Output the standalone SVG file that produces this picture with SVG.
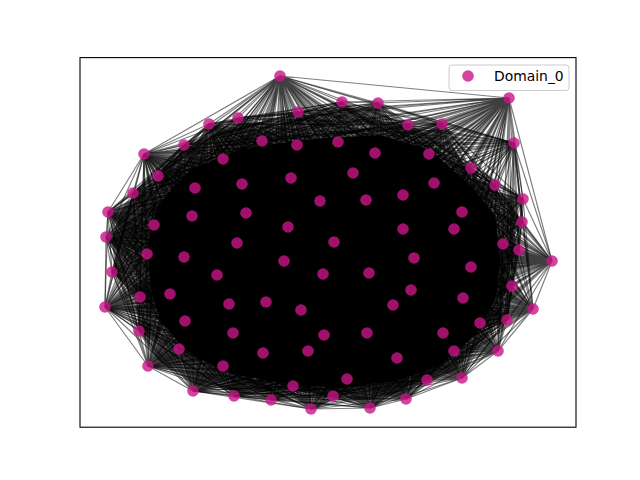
<svg xmlns="http://www.w3.org/2000/svg" width="640" height="480" viewBox="0 0 640 480">
<style>
.e{fill:none;stroke:#000;stroke-opacity:.5;stroke-width:1.2}
.n{fill:#c71585;fill-opacity:.8}
.t{font-family:"DejaVu Sans",sans-serif;font-size:13.9px;fill:#000}
</style>
<rect width="640" height="480" fill="#fff"/>
<g id="connectors">
<polygon points="184,150 238,124 298,118 342,108 378,109 408,130 442,130 468,170 492,190 516,202 515,250 506,286 500,320 478,345 455,370 427,382 400,392 370,400 333,398 293,390 260,392 234,390 195,385 160,362 140,335 135,300 115,272 112,240 120,213 135,195 155,178" fill="#000" fill-opacity=".5"/>
<polygon points="190,170 240,150 300,140 380,135 430,150 470,185 495,215 500,260 495,300 475,335 440,365 400,380 340,388 280,383 225,372 185,350 160,320 150,285 148,245 158,205" fill="#000"/>
<path class="e" d="M280 76L342 102ZL298 112ZL442 124ZL184 145ZL262 141ZL338 142ZL429 154ZL158 176ZL353 173ZL242 184ZL495 185ZL133 193ZL320 201ZL403 195ZL192 216ZL462 212ZL288 227ZL454 229ZL334 242ZL519 250ZL184 257ZL414 258ZL112 272ZL323 274ZL471 267ZL140 297ZL229 304ZL301 310ZL393 305ZL185 321ZL233 333ZL367 333ZL480 323ZL179 349ZL308 351ZL454 351ZL293 386ZL427 380ZL333 396ZL406 399ZL271 400ZL193 391ZL148 366ZL105 307ZL106 237ZL209 124Z"/>
<path class="e" d="M280 76L378 103ZL238 118ZL408 125ZL514 143ZL297 145ZL375 153ZL223 159ZL471 168ZL291 178ZL434 183ZL195 188ZL523 199ZL366 200ZL246 213ZL154 225ZL403 229ZL522 222ZL237 243ZL503 244ZL147 254ZL284 261ZL217 275ZL369 273ZL512 286ZL170 294ZL266 302ZL411 290ZL463 298ZL139 331ZL324 335ZL443 333ZL507 320ZL263 353ZL397 358ZL223 366ZL347 379ZL509 98ZL552 261ZL533 309ZL498 351ZL462 378ZL370 408ZL311 409ZL234 396ZL108 212ZL144 154Z"/>
<path class="e" d="M509 98L342 102ZL298 112ZL442 124ZL184 145ZL262 141ZL338 142ZL429 154ZL158 176ZL353 173ZL242 184ZL495 185ZL133 193ZL320 201ZL403 195ZL192 216ZL462 212ZL288 227ZL454 229ZL334 242ZL519 250ZL184 257ZL414 258ZL112 272ZL323 274ZL471 267ZL140 297ZL229 304ZL301 310ZL393 305ZL185 321ZL233 333ZL367 333ZL480 323ZL179 349ZL308 351ZL454 351ZL293 386ZL427 380ZL333 396ZL406 399ZL271 400ZL193 391ZL148 366ZL105 307ZL106 237ZL209 124Z"/>
<path class="e" d="M509 98L378 103ZL238 118ZL408 125ZL514 143ZL297 145ZL375 153ZL223 159ZL471 168ZL291 178ZL434 183ZL195 188ZL523 199ZL366 200ZL246 213ZL154 225ZL403 229ZL522 222ZL237 243ZL503 244ZL147 254ZL284 261ZL217 275ZL369 273ZL512 286ZL170 294ZL266 302ZL411 290ZL463 298ZL139 331ZL324 335ZL443 333ZL507 320ZL263 353ZL397 358ZL223 366ZL347 379ZL552 261ZL533 309ZL498 351ZL462 378ZL370 408ZL311 409ZL234 396ZL108 212ZL144 154Z"/>
<path class="e" d="M552 261L342 102ZL298 112ZL442 124ZL184 145ZL262 141ZL338 142ZL429 154ZL158 176ZL353 173ZL242 184ZL495 185ZL133 193ZL320 201ZL403 195ZL192 216ZL462 212ZL288 227ZL454 229ZL334 242ZL519 250ZL184 257ZL414 258ZL112 272ZL323 274ZL471 267ZL140 297ZL229 304ZL301 310ZL393 305ZL185 321ZL233 333ZL367 333ZL480 323ZL179 349ZL308 351ZL454 351ZL293 386ZL427 380ZL333 396ZL406 399ZL271 400ZL193 391ZL148 366ZL105 307ZL106 237ZL209 124Z"/>
<path class="e" d="M552 261L378 103ZL238 118ZL408 125ZL514 143ZL297 145ZL375 153ZL223 159ZL471 168ZL291 178ZL434 183ZL195 188ZL523 199ZL366 200ZL246 213ZL154 225ZL403 229ZL522 222ZL237 243ZL503 244ZL147 254ZL284 261ZL217 275ZL369 273ZL512 286ZL170 294ZL266 302ZL411 290ZL463 298ZL139 331ZL324 335ZL443 333ZL507 320ZL263 353ZL397 358ZL223 366ZL347 379ZL533 309ZL498 351ZL462 378ZL370 408ZL311 409ZL234 396ZL108 212ZL144 154Z"/>
<path class="e" d="M533 309L342 102ZL298 112ZL442 124ZL184 145ZL262 141ZL338 142ZL429 154ZL158 176ZL353 173ZL242 184ZL495 185ZL133 193ZL320 201ZL403 195ZL192 216ZL462 212ZL288 227ZL454 229ZL334 242ZL519 250ZL184 257ZL414 258ZL112 272ZL323 274ZL471 267ZL140 297ZL229 304ZL301 310ZL393 305ZL185 321ZL233 333ZL367 333ZL480 323ZL179 349ZL308 351ZL454 351ZL293 386ZL427 380ZL333 396ZL406 399ZL271 400ZL193 391ZL148 366ZL105 307ZL106 237ZL209 124Z"/>
<path class="e" d="M533 309L378 103ZL238 118ZL408 125ZL514 143ZL297 145ZL375 153ZL223 159ZL471 168ZL291 178ZL434 183ZL195 188ZL523 199ZL366 200ZL246 213ZL154 225ZL403 229ZL522 222ZL237 243ZL503 244ZL147 254ZL284 261ZL217 275ZL369 273ZL512 286ZL170 294ZL266 302ZL411 290ZL463 298ZL139 331ZL324 335ZL443 333ZL507 320ZL263 353ZL397 358ZL223 366ZL347 379ZL498 351ZL462 378ZL370 408ZL311 409ZL234 396ZL108 212ZL144 154Z"/>
<path class="e" d="M498 351L342 102ZL298 112ZL442 124ZL184 145ZL262 141ZL338 142ZL429 154ZL158 176ZL353 173ZL242 184ZL495 185ZL133 193ZL320 201ZL403 195ZL192 216ZL462 212ZL288 227ZL454 229ZL334 242ZL519 250ZL184 257ZL414 258ZL112 272ZL323 274ZL471 267ZL140 297ZL229 304ZL301 310ZL393 305ZL185 321ZL233 333ZL367 333ZL480 323ZL179 349ZL308 351ZL454 351ZL293 386ZL427 380ZL333 396ZL406 399ZL271 400ZL193 391ZL148 366ZL105 307ZL106 237ZL209 124Z"/>
<path class="e" d="M498 351L378 103ZL238 118ZL408 125ZL514 143ZL297 145ZL375 153ZL223 159ZL471 168ZL291 178ZL434 183ZL195 188ZL523 199ZL366 200ZL246 213ZL154 225ZL403 229ZL522 222ZL237 243ZL503 244ZL147 254ZL284 261ZL217 275ZL369 273ZL512 286ZL170 294ZL266 302ZL411 290ZL463 298ZL139 331ZL324 335ZL443 333ZL507 320ZL263 353ZL397 358ZL223 366ZL347 379ZL462 378ZL370 408ZL311 409ZL234 396ZL108 212ZL144 154Z"/>
<path class="e" d="M462 378L342 102ZL298 112ZL442 124ZL184 145ZL262 141ZL338 142ZL429 154ZL158 176ZL353 173ZL242 184ZL495 185ZL133 193ZL320 201ZL403 195ZL192 216ZL462 212ZL288 227ZL454 229ZL334 242ZL519 250ZL184 257ZL414 258ZL112 272ZL323 274ZL471 267ZL140 297ZL229 304ZL301 310ZL393 305ZL185 321ZL233 333ZL367 333ZL480 323ZL179 349ZL308 351ZL454 351ZL293 386ZL427 380ZL333 396ZL406 399ZL271 400ZL193 391ZL148 366ZL105 307ZL106 237ZL209 124Z"/>
<path class="e" d="M462 378L378 103ZL238 118ZL408 125ZL514 143ZL297 145ZL375 153ZL223 159ZL471 168ZL291 178ZL434 183ZL195 188ZL523 199ZL366 200ZL246 213ZL154 225ZL403 229ZL522 222ZL237 243ZL503 244ZL147 254ZL284 261ZL217 275ZL369 273ZL512 286ZL170 294ZL266 302ZL411 290ZL463 298ZL139 331ZL324 335ZL443 333ZL507 320ZL263 353ZL397 358ZL223 366ZL347 379ZL370 408ZL311 409ZL234 396ZL108 212ZL144 154Z"/>
<path class="e" d="M406 399L342 102ZL298 112ZL442 124ZL184 145ZL262 141ZL338 142ZL429 154ZL158 176ZL353 173ZL242 184ZL495 185ZL133 193ZL320 201ZL403 195ZL192 216ZL462 212ZL288 227ZL454 229ZL334 242ZL519 250ZL184 257ZL414 258ZL112 272ZL323 274ZL471 267ZL140 297ZL229 304ZL301 310ZL393 305ZL185 321ZL233 333ZL367 333ZL480 323ZL179 349ZL308 351ZL454 351ZL293 386ZL427 380ZL333 396ZL271 400ZL193 391ZL148 366ZL105 307ZL106 237ZL209 124Z"/>
<path class="e" d="M406 399L378 103ZL238 118ZL408 125ZL514 143ZL297 145ZL375 153ZL223 159ZL471 168ZL291 178ZL434 183ZL195 188ZL523 199ZL366 200ZL246 213ZL154 225ZL403 229ZL522 222ZL237 243ZL503 244ZL147 254ZL284 261ZL217 275ZL369 273ZL512 286ZL170 294ZL266 302ZL411 290ZL463 298ZL139 331ZL324 335ZL443 333ZL507 320ZL263 353ZL397 358ZL223 366ZL347 379ZL370 408ZL311 409ZL234 396ZL108 212ZL144 154Z"/>
<path class="e" d="M370 408L342 102ZL298 112ZL442 124ZL184 145ZL262 141ZL338 142ZL429 154ZL158 176ZL353 173ZL242 184ZL495 185ZL133 193ZL320 201ZL403 195ZL192 216ZL462 212ZL288 227ZL454 229ZL334 242ZL519 250ZL184 257ZL414 258ZL112 272ZL323 274ZL471 267ZL140 297ZL229 304ZL301 310ZL393 305ZL185 321ZL233 333ZL367 333ZL480 323ZL179 349ZL308 351ZL454 351ZL293 386ZL427 380ZL333 396ZL271 400ZL193 391ZL148 366ZL105 307ZL106 237ZL209 124Z"/>
<path class="e" d="M370 408L378 103ZL238 118ZL408 125ZL514 143ZL297 145ZL375 153ZL223 159ZL471 168ZL291 178ZL434 183ZL195 188ZL523 199ZL366 200ZL246 213ZL154 225ZL403 229ZL522 222ZL237 243ZL503 244ZL147 254ZL284 261ZL217 275ZL369 273ZL512 286ZL170 294ZL266 302ZL411 290ZL463 298ZL139 331ZL324 335ZL443 333ZL507 320ZL263 353ZL397 358ZL223 366ZL347 379ZL311 409ZL234 396ZL108 212ZL144 154Z"/>
<path class="e" d="M311 409L342 102ZL298 112ZL442 124ZL184 145ZL262 141ZL338 142ZL429 154ZL158 176ZL353 173ZL242 184ZL495 185ZL133 193ZL320 201ZL403 195ZL192 216ZL462 212ZL288 227ZL454 229ZL334 242ZL519 250ZL184 257ZL414 258ZL112 272ZL323 274ZL471 267ZL140 297ZL229 304ZL301 310ZL393 305ZL185 321ZL233 333ZL367 333ZL480 323ZL179 349ZL308 351ZL454 351ZL293 386ZL427 380ZL333 396ZL271 400ZL193 391ZL148 366ZL105 307ZL106 237ZL209 124Z"/>
<path class="e" d="M311 409L378 103ZL238 118ZL408 125ZL514 143ZL297 145ZL375 153ZL223 159ZL471 168ZL291 178ZL434 183ZL195 188ZL523 199ZL366 200ZL246 213ZL154 225ZL403 229ZL522 222ZL237 243ZL503 244ZL147 254ZL284 261ZL217 275ZL369 273ZL512 286ZL170 294ZL266 302ZL411 290ZL463 298ZL139 331ZL324 335ZL443 333ZL507 320ZL263 353ZL397 358ZL223 366ZL347 379ZL234 396ZL108 212ZL144 154Z"/>
<path class="e" d="M271 400L342 102ZL298 112ZL442 124ZL184 145ZL262 141ZL338 142ZL429 154ZL158 176ZL353 173ZL242 184ZL495 185ZL133 193ZL320 201ZL403 195ZL192 216ZL462 212ZL288 227ZL454 229ZL334 242ZL519 250ZL184 257ZL414 258ZL112 272ZL323 274ZL471 267ZL140 297ZL229 304ZL301 310ZL393 305ZL185 321ZL233 333ZL367 333ZL480 323ZL179 349ZL308 351ZL454 351ZL293 386ZL427 380ZL333 396ZL193 391ZL148 366ZL105 307ZL106 237ZL209 124Z"/>
<path class="e" d="M271 400L378 103ZL238 118ZL408 125ZL514 143ZL297 145ZL375 153ZL223 159ZL471 168ZL291 178ZL434 183ZL195 188ZL523 199ZL366 200ZL246 213ZL154 225ZL403 229ZL522 222ZL237 243ZL503 244ZL147 254ZL284 261ZL217 275ZL369 273ZL512 286ZL170 294ZL266 302ZL411 290ZL463 298ZL139 331ZL324 335ZL443 333ZL507 320ZL263 353ZL397 358ZL223 366ZL347 379ZL234 396ZL108 212ZL144 154Z"/>
<path class="e" d="M234 396L342 102ZL298 112ZL442 124ZL184 145ZL262 141ZL338 142ZL429 154ZL158 176ZL353 173ZL242 184ZL495 185ZL133 193ZL320 201ZL403 195ZL192 216ZL462 212ZL288 227ZL454 229ZL334 242ZL519 250ZL184 257ZL414 258ZL112 272ZL323 274ZL471 267ZL140 297ZL229 304ZL301 310ZL393 305ZL185 321ZL233 333ZL367 333ZL480 323ZL179 349ZL308 351ZL454 351ZL293 386ZL427 380ZL333 396ZL193 391ZL148 366ZL105 307ZL106 237ZL209 124Z"/>
<path class="e" d="M234 396L378 103ZL238 118ZL408 125ZL514 143ZL297 145ZL375 153ZL223 159ZL471 168ZL291 178ZL434 183ZL195 188ZL523 199ZL366 200ZL246 213ZL154 225ZL403 229ZL522 222ZL237 243ZL503 244ZL147 254ZL284 261ZL217 275ZL369 273ZL512 286ZL170 294ZL266 302ZL411 290ZL463 298ZL139 331ZL324 335ZL443 333ZL507 320ZL263 353ZL397 358ZL223 366ZL347 379ZL108 212ZL144 154Z"/>
<path class="e" d="M193 391L342 102ZL298 112ZL442 124ZL184 145ZL262 141ZL338 142ZL429 154ZL158 176ZL353 173ZL242 184ZL495 185ZL133 193ZL320 201ZL403 195ZL192 216ZL462 212ZL288 227ZL454 229ZL334 242ZL519 250ZL184 257ZL414 258ZL112 272ZL323 274ZL471 267ZL140 297ZL229 304ZL301 310ZL393 305ZL185 321ZL233 333ZL367 333ZL480 323ZL179 349ZL308 351ZL454 351ZL293 386ZL427 380ZL333 396ZL148 366ZL105 307ZL106 237ZL209 124Z"/>
<path class="e" d="M193 391L378 103ZL238 118ZL408 125ZL514 143ZL297 145ZL375 153ZL223 159ZL471 168ZL291 178ZL434 183ZL195 188ZL523 199ZL366 200ZL246 213ZL154 225ZL403 229ZL522 222ZL237 243ZL503 244ZL147 254ZL284 261ZL217 275ZL369 273ZL512 286ZL170 294ZL266 302ZL411 290ZL463 298ZL139 331ZL324 335ZL443 333ZL507 320ZL263 353ZL397 358ZL223 366ZL347 379ZL108 212ZL144 154Z"/>
<path class="e" d="M148 366L342 102ZL298 112ZL442 124ZL184 145ZL262 141ZL338 142ZL429 154ZL158 176ZL353 173ZL242 184ZL495 185ZL133 193ZL320 201ZL403 195ZL192 216ZL462 212ZL288 227ZL454 229ZL334 242ZL519 250ZL184 257ZL414 258ZL112 272ZL323 274ZL471 267ZL140 297ZL229 304ZL301 310ZL393 305ZL185 321ZL233 333ZL367 333ZL480 323ZL179 349ZL308 351ZL454 351ZL293 386ZL427 380ZL333 396ZL105 307ZL106 237ZL209 124Z"/>
<path class="e" d="M148 366L378 103ZL238 118ZL408 125ZL514 143ZL297 145ZL375 153ZL223 159ZL471 168ZL291 178ZL434 183ZL195 188ZL523 199ZL366 200ZL246 213ZL154 225ZL403 229ZL522 222ZL237 243ZL503 244ZL147 254ZL284 261ZL217 275ZL369 273ZL512 286ZL170 294ZL266 302ZL411 290ZL463 298ZL139 331ZL324 335ZL443 333ZL507 320ZL263 353ZL397 358ZL223 366ZL347 379ZL108 212ZL144 154Z"/>
<path class="e" d="M105 307L342 102ZL298 112ZL442 124ZL184 145ZL262 141ZL338 142ZL429 154ZL158 176ZL353 173ZL242 184ZL495 185ZL133 193ZL320 201ZL403 195ZL192 216ZL462 212ZL288 227ZL454 229ZL334 242ZL519 250ZL184 257ZL414 258ZL112 272ZL323 274ZL471 267ZL140 297ZL229 304ZL301 310ZL393 305ZL185 321ZL233 333ZL367 333ZL480 323ZL179 349ZL308 351ZL454 351ZL293 386ZL427 380ZL333 396ZL106 237ZL209 124Z"/>
<path class="e" d="M105 307L378 103ZL238 118ZL408 125ZL514 143ZL297 145ZL375 153ZL223 159ZL471 168ZL291 178ZL434 183ZL195 188ZL523 199ZL366 200ZL246 213ZL154 225ZL403 229ZL522 222ZL237 243ZL503 244ZL147 254ZL284 261ZL217 275ZL369 273ZL512 286ZL170 294ZL266 302ZL411 290ZL463 298ZL139 331ZL324 335ZL443 333ZL507 320ZL263 353ZL397 358ZL223 366ZL347 379ZL108 212ZL144 154Z"/>
<path class="e" d="M106 237L342 102ZL298 112ZL442 124ZL184 145ZL262 141ZL338 142ZL429 154ZL158 176ZL353 173ZL242 184ZL495 185ZL133 193ZL320 201ZL403 195ZL192 216ZL462 212ZL288 227ZL454 229ZL334 242ZL519 250ZL184 257ZL414 258ZL112 272ZL323 274ZL471 267ZL140 297ZL229 304ZL301 310ZL393 305ZL185 321ZL233 333ZL367 333ZL480 323ZL179 349ZL308 351ZL454 351ZL293 386ZL427 380ZL333 396ZL209 124Z"/>
<path class="e" d="M106 237L378 103ZL238 118ZL408 125ZL514 143ZL297 145ZL375 153ZL223 159ZL471 168ZL291 178ZL434 183ZL195 188ZL523 199ZL366 200ZL246 213ZL154 225ZL403 229ZL522 222ZL237 243ZL503 244ZL147 254ZL284 261ZL217 275ZL369 273ZL512 286ZL170 294ZL266 302ZL411 290ZL463 298ZL139 331ZL324 335ZL443 333ZL507 320ZL263 353ZL397 358ZL223 366ZL347 379ZL108 212ZL144 154Z"/>
<path class="e" d="M108 212L342 102ZL298 112ZL442 124ZL184 145ZL262 141ZL338 142ZL429 154ZL158 176ZL353 173ZL242 184ZL495 185ZL133 193ZL320 201ZL403 195ZL192 216ZL462 212ZL288 227ZL454 229ZL334 242ZL519 250ZL184 257ZL414 258ZL112 272ZL323 274ZL471 267ZL140 297ZL229 304ZL301 310ZL393 305ZL185 321ZL233 333ZL367 333ZL480 323ZL179 349ZL308 351ZL454 351ZL293 386ZL427 380ZL333 396ZL209 124Z"/>
<path class="e" d="M108 212L378 103ZL238 118ZL408 125ZL514 143ZL297 145ZL375 153ZL223 159ZL471 168ZL291 178ZL434 183ZL195 188ZL523 199ZL366 200ZL246 213ZL154 225ZL403 229ZL522 222ZL237 243ZL503 244ZL147 254ZL284 261ZL217 275ZL369 273ZL512 286ZL170 294ZL266 302ZL411 290ZL463 298ZL139 331ZL324 335ZL443 333ZL507 320ZL263 353ZL397 358ZL223 366ZL347 379ZL144 154Z"/>
<path class="e" d="M144 154L342 102ZL298 112ZL442 124ZL184 145ZL262 141ZL338 142ZL429 154ZL158 176ZL353 173ZL242 184ZL495 185ZL133 193ZL320 201ZL403 195ZL192 216ZL462 212ZL288 227ZL454 229ZL334 242ZL519 250ZL184 257ZL414 258ZL112 272ZL323 274ZL471 267ZL140 297ZL229 304ZL301 310ZL393 305ZL185 321ZL233 333ZL367 333ZL480 323ZL179 349ZL308 351ZL454 351ZL293 386ZL427 380ZL333 396ZL209 124Z"/>
<path class="e" d="M144 154L378 103ZL238 118ZL408 125ZL514 143ZL297 145ZL375 153ZL223 159ZL471 168ZL291 178ZL434 183ZL195 188ZL523 199ZL366 200ZL246 213ZL154 225ZL403 229ZL522 222ZL237 243ZL503 244ZL147 254ZL284 261ZL217 275ZL369 273ZL512 286ZL170 294ZL266 302ZL411 290ZL463 298ZL139 331ZL324 335ZL443 333ZL507 320ZL263 353ZL397 358ZL223 366ZL347 379Z"/>
<path class="e" d="M209 124L342 102ZL298 112ZL442 124ZL184 145ZL262 141ZL338 142ZL429 154ZL158 176ZL353 173ZL242 184ZL495 185ZL133 193ZL320 201ZL403 195ZL192 216ZL462 212ZL288 227ZL454 229ZL334 242ZL519 250ZL184 257ZL414 258ZL112 272ZL323 274ZL471 267ZL140 297ZL229 304ZL301 310ZL393 305ZL185 321ZL233 333ZL367 333ZL480 323ZL179 349ZL308 351ZL454 351ZL293 386ZL427 380ZL333 396Z"/>
<path class="e" d="M209 124L378 103ZL238 118ZL408 125ZL514 143ZL297 145ZL375 153ZL223 159ZL471 168ZL291 178ZL434 183ZL195 188ZL523 199ZL366 200ZL246 213ZL154 225ZL403 229ZL522 222ZL237 243ZL503 244ZL147 254ZL284 261ZL217 275ZL369 273ZL512 286ZL170 294ZL266 302ZL411 290ZL463 298ZL139 331ZL324 335ZL443 333ZL507 320ZL263 353ZL397 358ZL223 366ZL347 379Z"/>
<path class="e" d="M342 102L378 103ZL298 112ZL238 118ZL408 125ZL442 124ZL514 143ZL184 145ZL262 141ZL158 176ZL471 168ZL495 185ZL133 193ZL523 199ZL522 222ZL519 250ZL112 272ZL512 286ZL140 297ZL139 331ZL507 320ZL427 380ZL333 396ZL293 386Z"/>
<path class="e" d="M378 103L298 112ZL238 118ZL408 125ZL442 124ZL514 143ZL184 145ZL262 141ZL158 176ZL471 168ZL495 185ZL133 193ZL523 199ZL522 222ZL519 250ZL112 272ZL512 286ZL140 297ZL139 331ZL507 320ZL427 380ZL333 396ZL293 386Z"/>
<path class="e" d="M298 112L238 118ZL408 125ZL442 124ZL514 143ZL184 145ZL262 141ZL158 176ZL471 168ZL495 185ZL133 193ZL523 199ZL522 222ZL519 250ZL112 272ZL512 286ZL140 297ZL139 331ZL507 320ZL427 380ZL333 396ZL293 386Z"/>
<path class="e" d="M238 118L408 125ZL442 124ZL514 143ZL184 145ZL262 141ZL158 176ZL471 168ZL495 185ZL133 193ZL523 199ZL522 222ZL519 250ZL112 272ZL512 286ZL140 297ZL139 331ZL507 320ZL427 380ZL333 396ZL293 386Z"/>
<path class="e" d="M408 125L442 124ZL514 143ZL184 145ZL262 141ZL158 176ZL471 168ZL495 185ZL133 193ZL523 199ZL522 222ZL519 250ZL112 272ZL512 286ZL140 297ZL139 331ZL507 320ZL427 380ZL333 396ZL293 386Z"/>
<path class="e" d="M442 124L514 143ZL184 145ZL262 141ZL158 176ZL471 168ZL495 185ZL133 193ZL523 199ZL522 222ZL519 250ZL112 272ZL512 286ZL140 297ZL139 331ZL507 320ZL427 380ZL333 396ZL293 386Z"/>
<path class="e" d="M514 143L184 145ZL262 141ZL158 176ZL471 168ZL495 185ZL133 193ZL523 199ZL522 222ZL519 250ZL112 272ZL512 286ZL140 297ZL139 331ZL507 320ZL427 380ZL333 396ZL293 386Z"/>
<path class="e" d="M184 145L262 141ZL158 176ZL471 168ZL495 185ZL133 193ZL523 199ZL522 222ZL519 250ZL112 272ZL512 286ZL140 297ZL139 331ZL507 320ZL427 380ZL333 396ZL293 386Z"/>
<path class="e" d="M262 141L158 176ZL471 168ZL495 185ZL133 193ZL523 199ZL522 222ZL519 250ZL112 272ZL512 286ZL140 297ZL139 331ZL507 320ZL427 380ZL333 396ZL293 386Z"/>
<path class="e" d="M158 176L471 168ZL495 185ZL133 193ZL523 199ZL522 222ZL519 250ZL112 272ZL512 286ZL140 297ZL139 331ZL507 320ZL427 380ZL333 396ZL293 386Z"/>
<path class="e" d="M471 168L495 185ZL133 193ZL523 199ZL522 222ZL519 250ZL112 272ZL512 286ZL140 297ZL139 331ZL507 320ZL427 380ZL333 396ZL293 386Z"/>
<path class="e" d="M495 185L133 193ZL523 199ZL522 222ZL519 250ZL112 272ZL512 286ZL140 297ZL139 331ZL507 320ZL427 380ZL333 396ZL293 386Z"/>
<path class="e" d="M133 193L523 199ZL522 222ZL519 250ZL112 272ZL512 286ZL140 297ZL139 331ZL507 320ZL427 380ZL333 396ZL293 386Z"/>
<path class="e" d="M523 199L522 222ZL519 250ZL112 272ZL512 286ZL140 297ZL139 331ZL507 320ZL427 380ZL333 396ZL293 386Z"/>
<path class="e" d="M522 222L519 250ZL112 272ZL512 286ZL140 297ZL139 331ZL507 320ZL427 380ZL333 396ZL293 386Z"/>
<path class="e" d="M519 250L112 272ZL512 286ZL140 297ZL139 331ZL507 320ZL427 380ZL333 396ZL293 386Z"/>
<path class="e" d="M112 272L512 286ZL140 297ZL139 331ZL507 320ZL427 380ZL333 396ZL293 386Z"/>
<path class="e" d="M512 286L140 297ZL139 331ZL507 320ZL427 380ZL333 396ZL293 386Z"/>
<path class="e" d="M140 297L139 331ZL507 320ZL427 380ZL333 396ZL293 386Z"/>
<path class="e" d="M139 331L507 320ZL427 380ZL333 396ZL293 386Z"/>
<path class="e" d="M507 320L427 380ZL333 396ZL293 386Z"/>
<path class="e" d="M427 380L333 396ZL293 386Z"/>
<path class="e" d="M333 396L293 386Z"/>
</g>
<g id="nodes">
<g id="n1"><circle class="n" cx="280" cy="76" r="5.8"/></g>
<g id="n2"><circle class="n" cx="509" cy="98" r="5.8"/></g>
<g id="n3"><circle class="n" cx="342" cy="102" r="5.8"/></g>
<g id="n4"><circle class="n" cx="378" cy="103" r="5.8"/></g>
<g id="n5"><circle class="n" cx="298" cy="112" r="5.8"/></g>
<g id="n6"><circle class="n" cx="238" cy="118" r="5.8"/></g>
<g id="n7"><circle class="n" cx="209" cy="124" r="5.8"/></g>
<g id="n8"><circle class="n" cx="408" cy="125" r="5.8"/></g>
<g id="n9"><circle class="n" cx="442" cy="124" r="5.8"/></g>
<g id="n10"><circle class="n" cx="514" cy="143" r="5.8"/></g>
<g id="n11"><circle class="n" cx="184" cy="145" r="5.8"/></g>
<g id="n12"><circle class="n" cx="144" cy="154" r="5.8"/></g>
<g id="n13"><circle class="n" cx="262" cy="141" r="5.8"/></g>
<g id="n14"><circle class="n" cx="297" cy="145" r="5.8"/></g>
<g id="n15"><circle class="n" cx="338" cy="142" r="5.8"/></g>
<g id="n16"><circle class="n" cx="375" cy="153" r="5.8"/></g>
<g id="n17"><circle class="n" cx="429" cy="154" r="5.8"/></g>
<g id="n18"><circle class="n" cx="223" cy="159" r="5.8"/></g>
<g id="n19"><circle class="n" cx="158" cy="176" r="5.8"/></g>
<g id="n20"><circle class="n" cx="471" cy="168" r="5.8"/></g>
<g id="n21"><circle class="n" cx="353" cy="173" r="5.8"/></g>
<g id="n22"><circle class="n" cx="291" cy="178" r="5.8"/></g>
<g id="n23"><circle class="n" cx="242" cy="184" r="5.8"/></g>
<g id="n24"><circle class="n" cx="434" cy="183" r="5.8"/></g>
<g id="n25"><circle class="n" cx="495" cy="185" r="5.8"/></g>
<g id="n26"><circle class="n" cx="195" cy="188" r="5.8"/></g>
<g id="n27"><circle class="n" cx="133" cy="193" r="5.8"/></g>
<g id="n28"><circle class="n" cx="523" cy="199" r="5.8"/></g>
<g id="n29"><circle class="n" cx="320" cy="201" r="5.8"/></g>
<g id="n30"><circle class="n" cx="366" cy="200" r="5.8"/></g>
<g id="n31"><circle class="n" cx="403" cy="195" r="5.8"/></g>
<g id="n32"><circle class="n" cx="108" cy="212" r="5.8"/></g>
<g id="n33"><circle class="n" cx="192" cy="216" r="5.8"/></g>
<g id="n34"><circle class="n" cx="246" cy="213" r="5.8"/></g>
<g id="n35"><circle class="n" cx="462" cy="212" r="5.8"/></g>
<g id="n36"><circle class="n" cx="154" cy="225" r="5.8"/></g>
<g id="n37"><circle class="n" cx="288" cy="227" r="5.8"/></g>
<g id="n38"><circle class="n" cx="403" cy="229" r="5.8"/></g>
<g id="n39"><circle class="n" cx="454" cy="229" r="5.8"/></g>
<g id="n40"><circle class="n" cx="522" cy="222" r="5.8"/></g>
<g id="n41"><circle class="n" cx="106" cy="237" r="5.8"/></g>
<g id="n42"><circle class="n" cx="237" cy="243" r="5.8"/></g>
<g id="n43"><circle class="n" cx="334" cy="242" r="5.8"/></g>
<g id="n44"><circle class="n" cx="503" cy="244" r="5.8"/></g>
<g id="n45"><circle class="n" cx="519" cy="250" r="5.8"/></g>
<g id="n46"><circle class="n" cx="147" cy="254" r="5.8"/></g>
<g id="n47"><circle class="n" cx="184" cy="257" r="5.8"/></g>
<g id="n48"><circle class="n" cx="284" cy="261" r="5.8"/></g>
<g id="n49"><circle class="n" cx="414" cy="258" r="5.8"/></g>
<g id="n50"><circle class="n" cx="552" cy="261" r="5.8"/></g>
<g id="n51"><circle class="n" cx="112" cy="272" r="5.8"/></g>
<g id="n52"><circle class="n" cx="217" cy="275" r="5.8"/></g>
<g id="n53"><circle class="n" cx="323" cy="274" r="5.8"/></g>
<g id="n54"><circle class="n" cx="369" cy="273" r="5.8"/></g>
<g id="n55"><circle class="n" cx="471" cy="267" r="5.8"/></g>
<g id="n56"><circle class="n" cx="512" cy="286" r="5.8"/></g>
<g id="n57"><circle class="n" cx="140" cy="297" r="5.8"/></g>
<g id="n58"><circle class="n" cx="170" cy="294" r="5.8"/></g>
<g id="n59"><circle class="n" cx="229" cy="304" r="5.8"/></g>
<g id="n60"><circle class="n" cx="266" cy="302" r="5.8"/></g>
<g id="n61"><circle class="n" cx="301" cy="310" r="5.8"/></g>
<g id="n62"><circle class="n" cx="411" cy="290" r="5.8"/></g>
<g id="n63"><circle class="n" cx="393" cy="305" r="5.8"/></g>
<g id="n64"><circle class="n" cx="463" cy="298" r="5.8"/></g>
<g id="n65"><circle class="n" cx="105" cy="307" r="5.8"/></g>
<g id="n66"><circle class="n" cx="533" cy="309" r="5.8"/></g>
<g id="n67"><circle class="n" cx="185" cy="321" r="5.8"/></g>
<g id="n68"><circle class="n" cx="139" cy="331" r="5.8"/></g>
<g id="n69"><circle class="n" cx="233" cy="333" r="5.8"/></g>
<g id="n70"><circle class="n" cx="324" cy="335" r="5.8"/></g>
<g id="n71"><circle class="n" cx="367" cy="333" r="5.8"/></g>
<g id="n72"><circle class="n" cx="443" cy="333" r="5.8"/></g>
<g id="n73"><circle class="n" cx="480" cy="323" r="5.8"/></g>
<g id="n74"><circle class="n" cx="507" cy="320" r="5.8"/></g>
<g id="n75"><circle class="n" cx="179" cy="349" r="5.8"/></g>
<g id="n76"><circle class="n" cx="263" cy="353" r="5.8"/></g>
<g id="n77"><circle class="n" cx="308" cy="351" r="5.8"/></g>
<g id="n78"><circle class="n" cx="397" cy="358" r="5.8"/></g>
<g id="n79"><circle class="n" cx="454" cy="351" r="5.8"/></g>
<g id="n80"><circle class="n" cx="498" cy="351" r="5.8"/></g>
<g id="n81"><circle class="n" cx="148" cy="366" r="5.8"/></g>
<g id="n82"><circle class="n" cx="223" cy="366" r="5.8"/></g>
<g id="n83"><circle class="n" cx="293" cy="386" r="5.8"/></g>
<g id="n84"><circle class="n" cx="347" cy="379" r="5.8"/></g>
<g id="n85"><circle class="n" cx="427" cy="380" r="5.8"/></g>
<g id="n86"><circle class="n" cx="462" cy="378" r="5.8"/></g>
<g id="n87"><circle class="n" cx="193" cy="391" r="5.8"/></g>
<g id="n88"><circle class="n" cx="234" cy="396" r="5.8"/></g>
<g id="n89"><circle class="n" cx="271" cy="400" r="5.8"/></g>
<g id="n90"><circle class="n" cx="311" cy="409" r="5.8"/></g>
<g id="n91"><circle class="n" cx="333" cy="396" r="5.8"/></g>
<g id="n92"><circle class="n" cx="370" cy="408" r="5.8"/></g>
<g id="n93"><circle class="n" cx="406" cy="399" r="5.8"/></g>
</g>
<rect x="80" y="57.6" width="496" height="369.6" fill="none" stroke="#000" stroke-width="1.1"/>
<g id="legend">
<rect x="449" y="65" width="120" height="25.5" rx="3" fill="#fff" fill-opacity=".8" stroke="#ccc" stroke-width="1"/>
<circle class="n" cx="468" cy="76" r="5.8"/>
<text class="t" x="494" y="81">Domain_0</text>
</g>
</svg>
